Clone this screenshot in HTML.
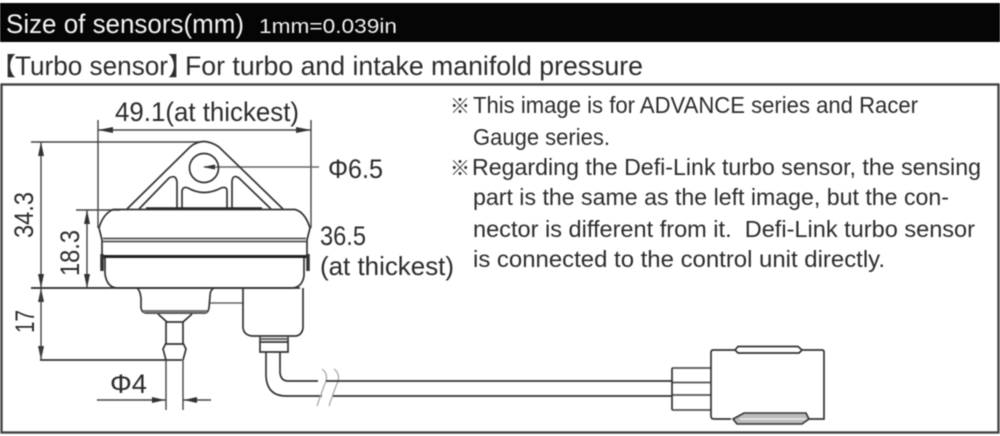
<!DOCTYPE html>
<html>
<head>
<meta charset="utf-8">
<style>
html,body{margin:0;padding:0;background:#fff;width:1000px;height:436px;overflow:hidden}
svg{display:block;filter:blur(.4px)}
text{font-family:"Liberation Sans","Noto Sans CJK JP",sans-serif;fill:#2c2c2c}
.l{fill:none;stroke:#444;stroke-width:1.4}
.t{fill:none;stroke:#333;stroke-width:1.7}
.g{fill:none;stroke:#666;stroke-width:1.4}
.a{fill:#333;stroke:none}
</style>
</head>
<body>
<svg width="1000" height="436" viewBox="0 0 1000 436" xmlns="http://www.w3.org/2000/svg">
<rect x="0" y="0" width="1000" height="436" fill="#fff"/>
<rect x="0" y="3" width="1000" height="39" fill="#050505"/>
<text x="6" y="33" font-size="27" textLength="238" lengthAdjust="spacingAndGlyphs" style="fill:#f4f4f4">Size of sensors(mm)</text>
<text x="259" y="33" font-size="20" textLength="138" lengthAdjust="spacingAndGlyphs" style="fill:#f0f0f0">1mm=0.039in</text>
<text x="-9" y="75" font-size="25">【</text>
<text x="15" y="75" font-size="27" textLength="153" lengthAdjust="spacingAndGlyphs">Turbo sensor</text>
<text x="168" y="75" font-size="25">】</text>
<text x="185" y="75" font-size="27" textLength="458" lengthAdjust="spacingAndGlyphs">For turbo and intake manifold pressure</text>
<rect x="1.5" y="84.5" width="997" height="348" fill="#fff" stroke="#444" stroke-width="2.4"/>

<text x="115" y="121" font-size="27" textLength="184" lengthAdjust="spacingAndGlyphs">49.1(at thickest)</text>
<text x="328" y="178" font-size="27" textLength="55" lengthAdjust="spacingAndGlyphs">Φ6.5</text>
<text x="320" y="245" font-size="27" textLength="46" lengthAdjust="spacingAndGlyphs">36.5</text>
<text x="320" y="275" font-size="26" textLength="134" lengthAdjust="spacingAndGlyphs">(at thickest)</text>
<text x="110" y="393" font-size="27" textLength="37" lengthAdjust="spacingAndGlyphs">Φ4</text>
<text transform="translate(33,238) rotate(-90)" font-size="27" textLength="46" lengthAdjust="spacingAndGlyphs">34.3</text>
<text transform="translate(79,276) rotate(-90)" font-size="27" textLength="46" lengthAdjust="spacingAndGlyphs">18.3</text>
<text transform="translate(34,333) rotate(-90)" font-size="27" textLength="23" lengthAdjust="spacingAndGlyphs">17</text>

<g font-size="23">
<text x="450" y="113" font-size="20">※</text>
<text x="473" y="113" textLength="445" lengthAdjust="spacingAndGlyphs">This image is for ADVANCE series and Racer</text>
<text x="473" y="145" textLength="137" lengthAdjust="spacingAndGlyphs">Gauge series.</text>
<text x="450" y="175" font-size="20">※</text>
<text x="472" y="175" textLength="509" lengthAdjust="spacingAndGlyphs">Regarding the Defi-Link turbo sensor, the sensing</text>
<text x="473" y="205" textLength="476" lengthAdjust="spacingAndGlyphs">part is the same as the left image, but the con-</text>
<text x="473" y="237" textLength="502" lengthAdjust="spacingAndGlyphs" xml:space="preserve">nector is different from it.  Defi-Link turbo sensor</text>
<text x="473" y="267" textLength="412" lengthAdjust="spacingAndGlyphs">is connected to the control unit directly.</text>
</g>

<!-- dimension lines -->
<path class="l" d="M98 120V228M311 120V228M98 130H311"/>
<path class="a" d="M98 130l15-3v6zM311 130l-15-3v6z"/>
<path class="l" d="M31 142H200M41 142V287M76 210H120M87 210V288M31 288H110"/>
<path class="a" d="M41 142l-3 14h6zM41 288l-3-14h6zM87 210l-3 14h6zM87 288l-3-14h6zM41 288l-3 14h6zM41 360l-3-14h6z"/>
<path class="l" d="M41 288V360"/>
<path class="t" d="M40 360H182"/>
<path class="l" d="M97 400H166M183 400H211"/>
<path class="a" d="M165 400l-13-3v6zM184 400l13-3v6z"/>
<path class="g" d="M204 167H319"/>
<path class="a" d="M203 167l12-2.500v5z"/>

<!-- bracket -->
<path class="t" d="M127 209L190 147Q203 136 219 147L283 209"/>
<circle class="t" cx="204" cy="168" r="14.500"/>
<path class="t" d="M139 209L169 178Q176 174 177 182V209"/>
<path class="t" d="M182 209V191Q183 186 188 188Q204 197 221 188Q227 186 227 191V209"/>
<path class="t" d="M232 209V181Q233 174 239 178L271 209"/>
<path d="M146 208.500H262" stroke="#222" stroke-width="2.500" fill="none"/>

<!-- body -->
<path class="t" d="M113 209.500H295Q305 212 310 228L307 240V256L304 258V276Q302 288 291 288H118Q107 288 105 274V258L102 256V240L99 228Q103 214 113 209.500Z"/>
<path d="M103 238.500H306M103 241.500H306" stroke="#555" stroke-width="1.800" fill="none"/>
<path d="M102 256.500H308" stroke="#222" stroke-width="3" fill="none"/>
<path d="M102 254V271M308 254V271" stroke="#333" stroke-width="3.500" fill="none"/>
<path class="t" d="M31 288H300"/>

<!-- lower port -->
<path class="t" d="M137 288Q140 290 141 298V308Q142 313 146 313H205Q208 313 209 308L210 296Q210 290 214 288"/>
<path d="M143 311.500H207" stroke="#777" stroke-width="3" fill="none"/>
<path class="t" d="M158 314L167 322H183L192 314"/>
<path class="t" d="M166 322V343L163 349L166 360M183 322V343L186 349L183 360M166 344H183"/>
<path class="l" d="M166 360V410M183 360V410"/>
<path class="g" d="M210 303H243"/>

<!-- right port -->
<path class="t" d="M243 288V328Q244 335 252 336H296Q302 335 303 328V288"/>
<path class="t" d="M260 337V352H288V337M260 342H288"/>
<path d="M260 339H288" stroke="#666" stroke-width="2" fill="none"/>
<path class="t" d="M266 352V376Q267 396 286 396H322M280 352V373Q281 381 288 381H318"/>
<path d="M322 369Q330 375 324 386Q320 397 317 406M334 369Q342 375 336 386Q332 397 329 406" stroke="#aaa" stroke-width="1.300" fill="none"/>
<path class="t" d="M326 381H672M333 396H672"/>

<!-- connector -->
<path d="M672 368H711M672 382.500H711M672 395H711M672 410H711" stroke="#555" stroke-width="1.800" fill="none"/>
<path class="t" d="M672 368V410"/>
<path class="t" d="M735 350H713Q711 350 711 353V416Q711 419 714 419H731M808 419H824V352Q824 350 822 350H802"/>
<path class="t" d="M735 350L738 346.500H798L802 350L799 353H738Z"/>
<path d="M733 419L744 413H806L809 419L802 424H737Z" fill="#bbb" stroke="#333" stroke-width="1.600"/>
<path d="M740 419H806" stroke="#eee" stroke-width="1.500"/>
</svg>
</body>
</html>
